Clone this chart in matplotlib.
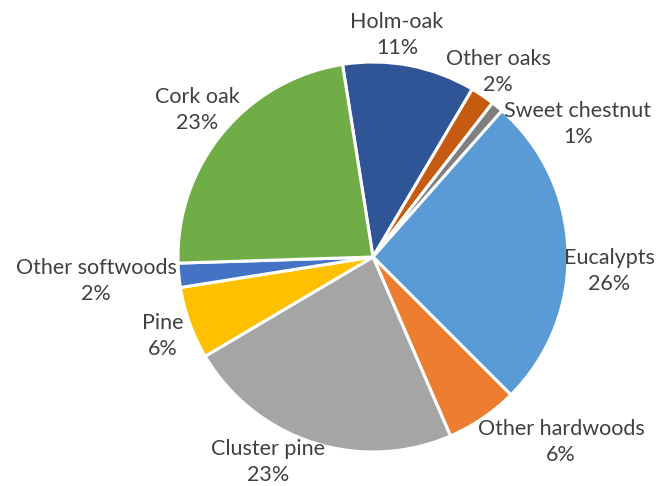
import matplotlib.pyplot as plt

# Forest area by species
species = [
    "Holm-oak", "Other oaks", "Sweet chestnut", "Eucalypts",
    "Other hardwoods", "Cluster pine", "Pine", "Other softwoods", "Cork oak",
]
share = [11, 2, 1, 26, 6, 23, 6, 2, 23]

colors = [
    "#2F5597", "#C55A11", "#7F7F7F", "#5B9BD5",
    "#ED7D31", "#A5A5A5", "#FFC000", "#4472C4", "#70AD47",
]

# label anchor points (pixels from top-left of the canvas)
label_pos = [
    (397, 35), (498, 72), (578, 124), (609, 271),
    (561, 442), (268, 462), (163, 336), (96, 281), (197, 110),
]

W, H = 664, 486
fig = plt.figure(figsize=(W / 100, H / 100), dpi=100)
ax = fig.add_axes([0, 0, 1, 1])

ax.pie(
    share,
    colors=colors,
    startangle=99,
    counterclock=False,
    center=(373, H - 257),
    radius=195,
    wedgeprops=dict(edgecolor="white", linewidth=2.2),
    frame=True,
)
ax.set_xlim(0, W)
ax.set_ylim(0, H)
ax.set_aspect("equal")
ax.axis("off")

for name, val, (px, py) in zip(species, share, label_pos):
    ax.text(
        px, H - py, f"{name}\n{val}%",
        ha="center", va="center",
        fontsize=15.5, color="#404040",
        family="Lato", linespacing=1.38,
    )

fig.savefig("out.png", dpi=100)
